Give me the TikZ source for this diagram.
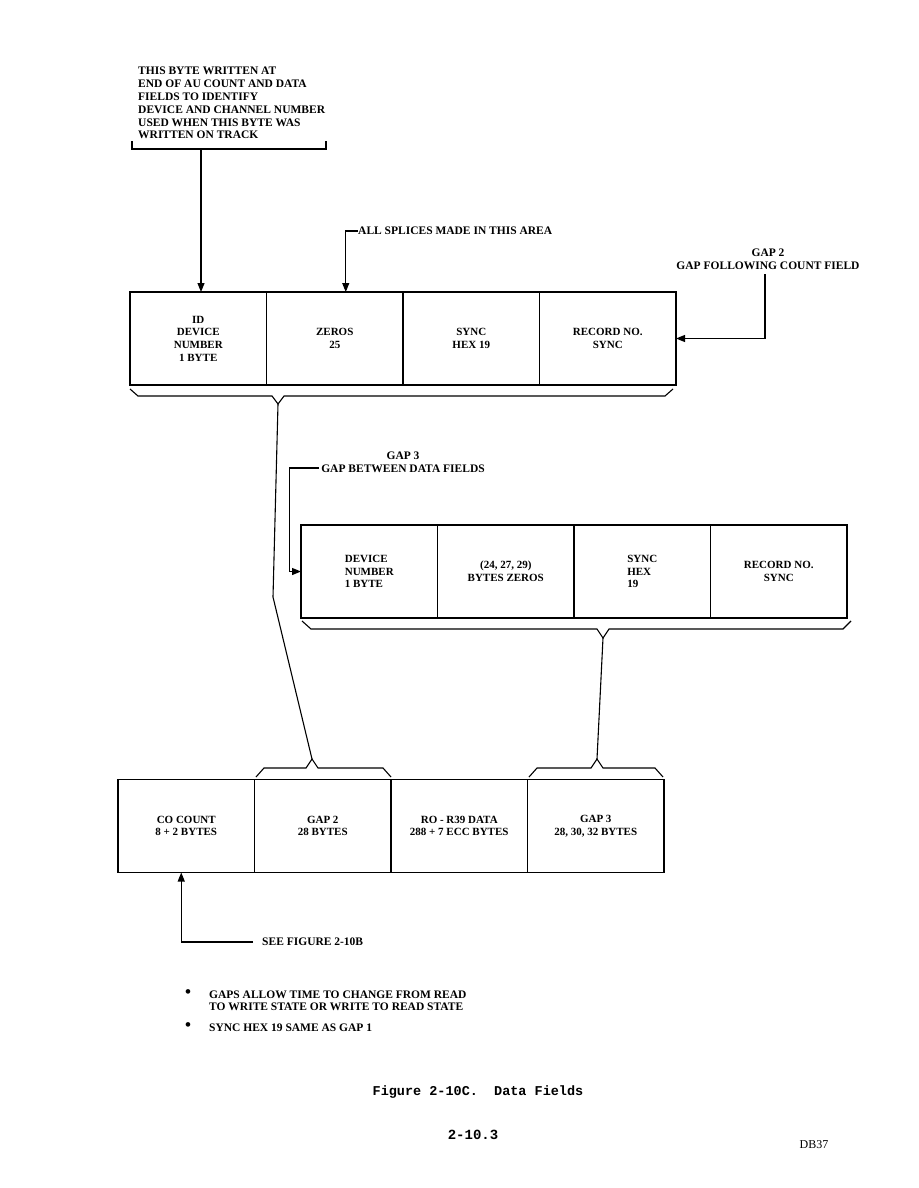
\documentclass[tikz,border=0pt]{standalone}
\usepackage{fontspec}
\setmainfont{Liberation Serif}
\setmonofont{Liberation Mono}
\usetikzlibrary{arrows.meta, positioning, calc}

\tikzset{
  field/.style={draw, line width=1.1pt, outer sep=0pt, inner sep=1pt,
    minimum width=136.5pt, minimum height=93pt, align=center,
    font=\bfseries\fontsize{11}{12.7}\selectfont},
  note/.style={inner sep=0pt, font=\bfseries\fontsize{11.5}{12.8}\selectfont},
  lead/.style={line width=1.1pt},
  leadarr/.style={line width=1.1pt, -{Triangle[length=9pt,width=7pt]}}
}

\begin{document}
\begin{tikzpicture}[x=1pt, y=-1pt]
  \useasboundingbox (0,0) rectangle (918,1188);

  % Note on the ID byte, with its bracket
  \node[note, anchor=north west, align=left] (idnote) at (138,67) {THIS BYTE WRITTEN AT\\
    END OF AU COUNT AND DATA\\FIELDS TO IDENTIFY\\DEVICE AND CHANNEL NUMBER\\
    USED WHEN THIS BYTE WAS\\WRITTEN ON TRACK};
  \coordinate (brkL) at (132,141);
  \coordinate (brkR) at (326,141);
  \coordinate (brk) at (201,149);
  \draw[lead] (brkL) |- (brk) -| (brkR);

  % Count field area
  \node[field, anchor=west] (a1) at (130,338.5) {ID\\DEVICE\\NUMBER\\1 BYTE};
  \node[field, right=0pt of a1] (a2) {ZEROS\\25};
  \node[field, right=0pt of a2] (a3) {SYNC\\HEX 19};
  \node[field, right=0pt of a3] (a4) {RECORD NO.\\SYNC};

  \draw[leadarr] (brk) -- (brk |- a1.north);

  \node[note, anchor=west] (splice) at (358,231) {ALL SPLICES MADE IN THIS AREA};
  \draw[leadarr] (splice.west) -| ([xshift=11pt]a2.north);

  \node[note, align=center] (gap2) at (768,259) {GAP 2\\GAP FOLLOWING COUNT FIELD};
  \draw[leadarr] ([xshift=-3pt, yshift=-5pt]gap2.south) |- (a4.east);

  % Brace under count field area
  \coordinate (tipA) at (278,404);
  \draw[lead] (130,389) -- (138,396) -- (272,396) -- (tipA) -- (284,396)
    -- (665,396) -- (673,389);

  % Data field area
  \node[note, align=center] (gap3) at (403,462) {GAP 3\\GAP BETWEEN DATA FIELDS};

  \node[field, anchor=west, align=left] (b1) at (301,571.5) {DEVICE\\NUMBER\\1 BYTE};
  \node[field, right=0pt of b1] (b2) {(24, 27, 29)\\BYTES ZEROS};
  \node[field, right=0pt of b2, align=left] (b3) {SYNC\\HEX\\19};
  \node[field, right=0pt of b3] (b4) {RECORD NO.\\SYNC};

  \draw[leadarr] ([xshift=-2pt, yshift=-6pt]gap3.west) -- ++(-30,0) |- (b1.west);

  % Brace under data field area
  \coordinate (tipB) at (603,638);
  \draw[lead] (302,621) -- (311,629) -- (597,629) -- (tipB) -- (609,629)
    -- (843,629) -- (851,621);

  % Track layout
  \node[field, anchor=west] (c1) at (118,826) {CO COUNT\\8 + 2 BYTES};
  \node[field, right=0pt of c1] (c2) {GAP 2\\28 BYTES};
  \node[field, right=0pt of c2] (c3) {RO - R39 DATA\\288 + 7 ECC BYTES};
  \node[field, right=0pt of c3] (c4) {GAP 3\\28, 30, 32 BYTES};

  \coordinate (tipC) at (312,759);
  \draw[lead] (256,777) -- (264,768) -- (306,768) -- (tipC) -- (318,768)
    -- (383,768) -- (391,777);
  \coordinate (tipD) at (597,759);
  \draw[lead] (529,777) -- (537,768) -- (591,768) -- (tipD) -- (603,768)
    -- (655,768) -- (663,777);

  \draw[lead] (tipA) -- (273,597) -- (tipC);
  \draw[lead] (tipB) -- (tipD);

  \node[note, anchor=west] (seefig) at (262,942) {SEE FIGURE 2-10B};
  \draw[leadarr] ([xshift=-9pt]seefig.west) -| ([xshift=-5pt]c1.south);

  % Notes
  \node[note, anchor=north west] (gaps) at (185,989) {%
    \begin{tabular}{@{}l@{}l@{}}
      \makebox[24pt][l]{\raisebox{1pt}{\fontsize{17}{12}\selectfont\textbullet}} & GAPS ALLOW TIME TO CHANGE FROM READ\\
      & TO WRITE STATE OR WRITE TO READ STATE\\[8pt]
      \makebox[24pt][l]{\raisebox{1pt}{\fontsize{17}{12}\selectfont\textbullet}} & SYNC HEX 19 SAME AS GAP 1
    \end{tabular}};

  \node[font=\ttfamily\bfseries\fontsize{13.5}{16}\selectfont] (caption) at (478,1092)
    {Figure 2-10C.~ Data Fields};
  \node[font=\ttfamily\bfseries\fontsize{14}{16}\selectfont] (pageno) at (473,1135) {2-10.3};
  \node[font=\fontsize{12}{14}\selectfont] (docid) at (814,1145) {DB37};
\end{tikzpicture}
\end{document}
